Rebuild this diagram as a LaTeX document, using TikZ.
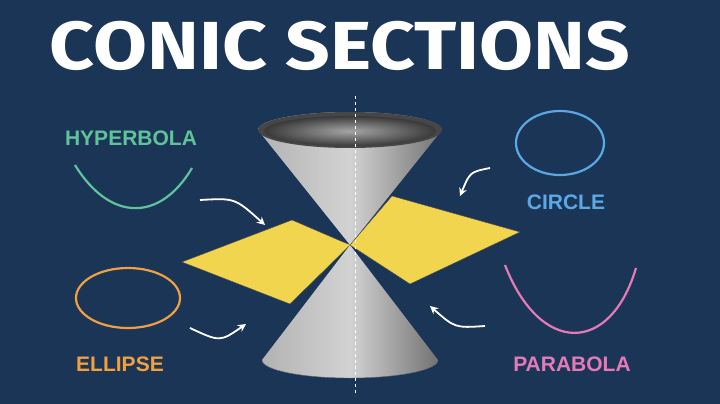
\documentclass[tikz,border=0pt]{standalone}
\usepackage{fontspec}
\usetikzlibrary{arrows.meta}
\setmainfont{Liberation Sans}
\newfontfamily\titlefont{Fira Sans}
\begin{document}
\begin{tikzpicture}[x=1pt,y=-1pt,
  lab/.style={font=\bfseries\fontsize{21}{21}\selectfont},
  arr/.style={white,line width=1.8pt,-{Stealth[length=8pt,width=8pt]}},
  cur/.style={line width=2.2pt}]
\definecolor{bg}{HTML}{1B3557}
\definecolor{hyp}{HTML}{5EC49A}
\definecolor{cir}{HTML}{5AA9E6}
\definecolor{ell}{HTML}{F0A040}
\definecolor{par}{HTML}{E67AB8}
\definecolor{yel}{HTML}{F2D54E}
\fill[bg] (0,0) rectangle (720,404);
\useasboundingbox (0,0) rectangle (720,404);
\node[text=white,font=\titlefont\bfseries\fontsize{68}{68}\selectfont,xscale=1.15] (title) at (340,46) {CONIC SECTIONS};
% plane left piece
\fill[yel,draw=black!70,line width=0.4pt] (182,262) -- (292,220) -- (350,245) -- (290,304) -- cycle;
% cones
\shade[left color=gray!60,right color=gray!90!black,middle color=gray!35] (258,130) -- (350,245) -- (442,130) arc (0:-180:92 and 18);
\fill[gray!55!black] (350,130) ellipse (92 and 18);
\shade[inner color=gray!70,outer color=gray!45!black] (350,131) ellipse (86 and 15);
\shade[left color=gray!60,right color=gray!90!black,middle color=gray!35] (262,360) -- (350,245) -- (438,360) arc (0:180:88 and 18);
\draw[black!60,line width=0.4pt] (262,360) arc (180:0:88 and 18);
% plane right piece
\fill[yel,draw=black!70,line width=0.4pt] (350,245) -- (392,196) -- (520,232) -- (410,284) -- cycle;
\fill[yel] (350,245) -- (300,228) -- (320,245) -- (300,262) -- cycle;
\draw[white,dashed,line width=1pt] (355,96) -- (355,396);
% labels and curves
\node[lab,text=hyp] (hyp) at (131,138) {HYPERBOLA};
\draw[hyp,cur] (75,165) .. controls (110,222) and (160,222) .. (192,168);
\node[lab,text=cir] (cir) at (566,202) {CIRCLE};
\draw[cir,cur] (560,143) ellipse (44 and 32);
\node[lab,text=ell] (ell) at (120,364) {ELLIPSE};
\draw[ell,cur] (128,298) ellipse (52 and 30);
\node[lab,text=par] (par) at (572,364) {PARABOLA};
\draw[par,cur] (505,265) .. controls (540,355) and (610,355) .. (636,268);
\coordinate (a1s) at (200,200); \coordinate (a1e) at (265,225);
\coordinate (a2s) at (490,168); \coordinate (a2e) at (460,196);
\coordinate (a3s) at (190,328); \coordinate (a3e) at (246,324);
\coordinate (a4s) at (485,326); \coordinate (a4e) at (430,306);
\draw[arr] (a1s) .. controls (235,198) .. (a1e);
\draw[arr] (a2s) .. controls (470,172) .. (a2e);
\draw[arr] (a3s) .. controls (220,342) .. (a3e);
\draw[arr] (a4s) .. controls (455,328) .. (a4e);
\end{tikzpicture}
\end{document}
